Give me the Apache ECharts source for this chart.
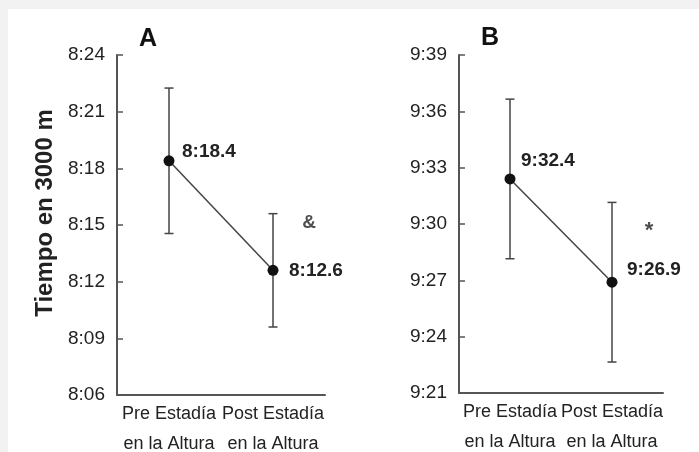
<!DOCTYPE html>
<html>
<head>
<meta charset="utf-8">
<script src="https://cdn.jsdelivr.net/npm/echarts@6/dist/echarts.min.js"></script>
<style>
html,body{margin:0;padding:0;background:#f2f2f2;}
#c{width:699px;height:452px;}
</style>
</head>
<body>
<div id="c"></div>
<script>
// ---- data (times in seconds) ----
const categories = ['Pre Estadía\nen la Altura', 'Post Estadía\nen la Altura'];
const meansA = [498.4, 492.6];   // 8:18.4, 8:12.6
const sdA = [3.85, 3.0];
const meansB = [572.4, 566.9];   // 9:32.4, 9:26.9
const sdB = [4.25, 4.25];
const labelsA = ['8:18.4', '8:12.6'];
const labelsB = ['9:32.4', '9:26.9'];
const markA = '&';
const markB = '*';
const yMinA = 486, yMaxA = 504;  // 8:06 .. 8:24
const yMinB = 561, yMaxB = 579;  // 9:21 .. 9:39
const yStep = 3;

function fmt(v){
  const m = Math.floor(v/60);
  const s = Math.round(v - m*60);
  return m + ':' + (s < 10 ? '0' + s : s);
}

const chart = echarts.init(document.getElementById('c'), null, {renderer:'canvas'});
const axisColor = '#555';
const txt = '#222';
const sans = "'Liberation Sans',Arial,sans-serif";

function xAxis(gi){
  return {
    type:'category', gridIndex:gi, data:categories, boundaryGap:true,
    axisLine:{lineStyle:{color:axisColor,width:2}},
    axisTick:{inside:true,alignWithLabel:true,length:6,lineStyle:{color:axisColor,width:1.5}},
    axisLabel:{color:txt,fontFamily:sans,fontSize:18,lineHeight:30,margin:4,interval:0}
  };
}
function yAxis(gi,min,max,name){
  return {
    type:'value', gridIndex:gi, min:min, max:max, interval:yStep,
    name:name, nameLocation:'middle', nameGap:60, nameRotate:90,
    nameTextStyle:{color:txt,fontFamily:sans,fontWeight:'bold',fontSize:24,padding:[0,0,0,24]},
    splitLine:{show:false},
    axisLine:{show:true,lineStyle:{color:axisColor,width:2}},
    axisTick:{show:true,inside:true,length:6,lineStyle:{color:axisColor,width:1.5}},
    axisLabel:{color:txt,fontFamily:sans,fontSize:19,margin:12,formatter:fmt}
  };
}
function errData(means,sds){
  return means.map((m,i)=>[i, m - sds[i], m + sds[i]]);
}
function errSeries(xi,means,sds){
  return {
    type:'custom', xAxisIndex:xi, yAxisIndex:xi, z:1,
    data:errData(means,sds),
    renderItem:function(params,api){
      const lo = api.coord([api.value(0), api.value(1)]);
      const hi = api.coord([api.value(0), api.value(2)]);
      const w = 4.5;
      const st = {stroke:'#444', lineWidth:1.5};
      return {type:'group', children:[
        {type:'line', shape:{x1:lo[0],y1:lo[1],x2:hi[0],y2:hi[1]}, style:st},
        {type:'line', shape:{x1:lo[0]-w,y1:lo[1],x2:lo[0]+w,y2:lo[1]}, style:st},
        {type:'line', shape:{x1:hi[0]-w,y1:hi[1],x2:hi[0]+w,y2:hi[1]}, style:st}
      ]};
    }
  };
}
function lineSeries(xi,means,labels,offsets){
  return {
    type:'line', xAxisIndex:xi, yAxisIndex:xi, z:3,
    symbol:'circle', symbolSize:11,
    itemStyle:{color:'#111'},
    lineStyle:{color:'#444',width:1.5},
    data:means.map((m,i)=>({value:m, label:{show:true, position:'right', distance:0, offset:offsets[i], formatter:labels[i], color:txt, fontFamily:sans, fontWeight:'bold', fontSize:19}})),
    animation:false
  };
}
function markSeries(xi,means,mark,offset,size){
  return {
    type:'scatter', xAxisIndex:xi, yAxisIndex:xi, symbolSize:0, z:4,
    data:[{value:[1, means[1]], label:{show:true, position:'inside', offset:offset, formatter:mark, color:'#222', fontFamily:sans, fontWeight:'bold', fontSize:size}}],
    silent:true
  };
}

chart.setOption({
  animation:false,
  backgroundColor:'#f2f2f2',
  graphic:[
    {type:'rect', shape:{x:8,y:9,width:691,height:443}, style:{fill:'#ffffff'}, z:-10},
    {type:'text', left:139, top:27, style:{text:'A', font:"bold 25px 'Liberation Sans',Arial,sans-serif", fill:'#111'}},
    {type:'text', left:481, top:26, style:{text:'B', font:"bold 25px 'Liberation Sans',Arial,sans-serif", fill:'#111'}}
  ],
  grid:[
    {left:117, top:55, width:208, height:340, outerBoundsMode:'none', containLabel:false},
    {left:459, top:55, width:204, height:338, outerBoundsMode:'none', containLabel:false}
  ],
  xAxis:[xAxis(0), xAxis(1)],
  yAxis:[yAxis(0,yMinA,yMaxA,'Tiempo en 3000 m'), yAxis(1,yMinB,yMaxB,'')],
  series:[
    errSeries(0,meansA,sdA),
    lineSeries(0,meansA,labelsA,[[7.5,-9],[10.5,0]]),
    markSeries(0,meansA,markA,[36,-48],19),
    errSeries(1,meansB,sdB),
    lineSeries(1,meansB,labelsB,[[5.5,-18],[9.5,-12]]),
    markSeries(1,meansB,markB,[37,-51],22)
  ]
});
</script>
</body>
</html>
